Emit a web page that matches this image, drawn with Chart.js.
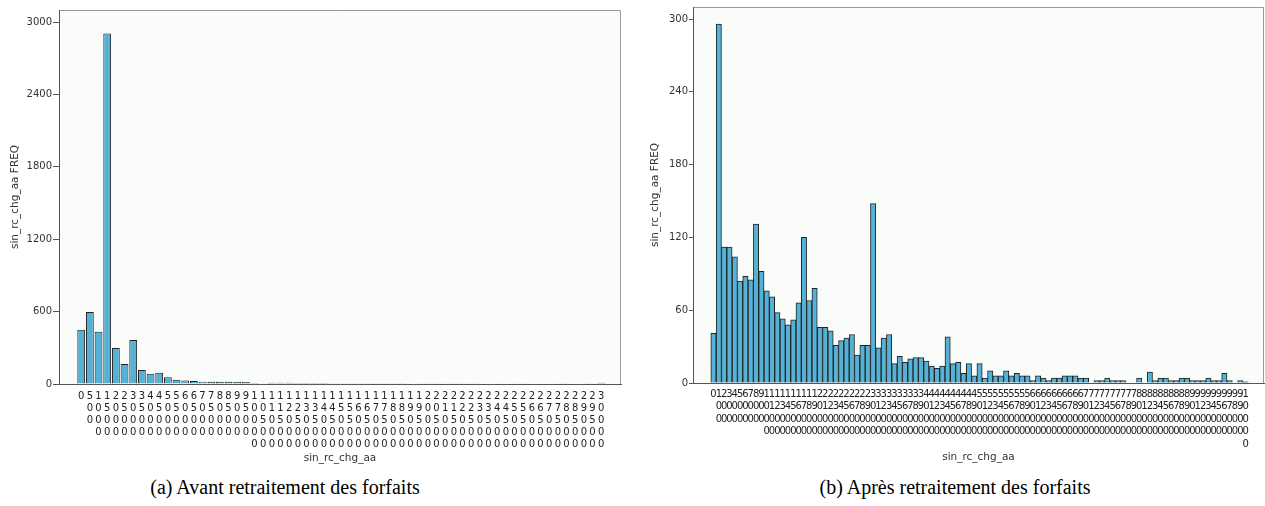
<!DOCTYPE html>
<html>
<head>
<meta charset="utf-8">
<script src="https://cdn.jsdelivr.net/npm/chart.js@4.4.1/dist/chart.umd.min.js"></script>
<style>
    body { margin: 0; background: #fff; width: 1265px; height: 506px; position: relative; overflow: hidden; }
    .panel { position: absolute; top: 0; height: 470px; }
    #leftPanel { left: 0; width: 632px; }
    #rightPanel { left: 640px; width: 625px; }
    .caption {
        position: absolute; top: 477px; line-height: 20px;
        font-family: "Liberation Serif", serif; font-size: 20px; color: #000;
        white-space: nowrap; transform: translateX(-50%);
    }
</style>
</head>
<body>
<div class="panel" id="leftPanel"><canvas id="leftChart" width="632" height="470"></canvas></div>
<div class="panel" id="rightPanel"><canvas id="rightChart" width="625" height="470"></canvas></div>
<div class="caption" style="left:285px">(a) Avant retraitement des forfaits</div>
<div class="caption" style="left:955px">(b) Après retraitement des forfaits</div>

<script>
// (a) before: classes of 500
const leftCategories = [
    0, 500, 1000, 1500, 2000, 2500, 3000, 3500, 4000, 4500,
    5000, 5500, 6000, 6500, 7000, 7500, 8000, 8500, 9000, 9500,
    10000, 10500, 11000, 11500, 12000, 12500, 13000, 13500, 14000, 14500,
    15000, 15500, 16000, 16500, 17000, 17500, 18000, 18500, 19000, 19500,
    20000, 20500, 21000, 21500, 22000, 22500, 23000, 23500, 24000, 24500,
    25000, 25500, 26000, 26500, 27000, 27500, 28000, 28500, 29000, 29500,
    30000
];
const leftFreq = [
    450, 596, 433, 2906, 298, 166, 364, 116, 85, 94,
    55, 36, 30, 25, 19, 18, 18, 18, 17, 16,
    8, 2, 10, 10, 10, 9, 9, 9, 8, 3,
    3, 3, 3, 3, 3, 3, 3, 3, 0, 2,
    2, 2, 2, 2, 2, 2, 2, 0, 2, 0,
    2, 2, 0, 0, 0, 2, 2, 0, 2, 2,
    10
];
const leftYTicks = [0, 600, 1200, 1800, 2400, 3000];

// (b) after: classes of 100
const rightCategories = [
    0, 100, 200, 300, 400, 500, 600, 700, 800, 900,
    1000, 1100, 1200, 1300, 1400, 1500, 1600, 1700, 1800, 1900,
    2000, 2100, 2200, 2300, 2400, 2500, 2600, 2700, 2800, 2900,
    3000, 3100, 3200, 3300, 3400, 3500, 3600, 3700, 3800, 3900,
    4000, 4100, 4200, 4300, 4400, 4500, 4600, 4700, 4800, 4900,
    5000, 5100, 5200, 5300, 5400, 5500, 5600, 5700, 5800, 5900,
    6000, 6100, 6200, 6300, 6400, 6500, 6600, 6700, 6800, 6900,
    7000, 7100, 7200, 7300, 7400, 7500, 7600, 7700, 7800, 7900,
    8000, 8100, 8200, 8300, 8400, 8500, 8600, 8700, 8800, 8900,
    9000, 9100, 9200, 9300, 9400, 9500, 9600, 9700, 9800, 9900,
    10000
];
const rightFreq = [
    41, 296, 112, 112, 104, 84, 88, 85, 131, 92,
    76, 71, 58, 53, 48, 52, 66, 120, 68, 78,
    46, 46, 43, 31, 35, 37, 40, 23, 31, 31,
    148, 29, 37, 40, 16, 22, 17, 20, 21, 21,
    18, 14, 12, 14, 38, 16, 17, 8, 16, 6,
    16, 4, 10, 6, 6, 10, 6, 8, 6, 6,
    2, 6, 4, 2, 4, 4, 6, 6, 6, 4,
    4, 0, 2, 2, 4, 2, 2, 2, 0, 0,
    4, 0, 9, 2, 4, 4, 2, 2, 4, 4,
    2, 2, 2, 4, 2, 2, 8, 2, 0, 2,
    1
];
const rightYTicks = [0, 60, 120, 180, 240, 300];

const BAR_FILL = "#55b2d6";
const BAR_EDGE = "#222";
const AXIS_COLOR = "#555";
const TEXT_COLOR = "#333";

// light plot background + grey frame around the plot area
const frame = {
    id: "frame",
    beforeDraw(chart) {
        const { ctx, chartArea: a } = chart;
        ctx.save();
        ctx.fillStyle = "#fafcfa";
        ctx.fillRect(a.left, a.top, a.right - a.left, a.bottom - a.top);
        ctx.strokeStyle = "#999";
        ctx.lineWidth = 1;
        ctx.beginPath();
        ctx.moveTo(a.left, a.top + 0.5);
        ctx.lineTo(a.right - 0.5, a.top + 0.5);
        ctx.lineTo(a.right - 0.5, a.bottom);
        ctx.stroke();
        ctx.restore();
    }
};

function renderHistogram(id, categories, freq, yTicks, o) {
    const ctx = document.getElementById(id).getContext("2d");

    return new Chart(ctx, {
        type: "bar",
        data: {
            datasets: [{
                data: categories.map((c, i) => ({ x: c, y: freq[i] })),
                backgroundColor: BAR_FILL,
                borderColor: BAR_EDGE,
                borderWidth: 1,
                barPercentage: o.barPct,
                categoryPercentage: 1
            }]
        },
        options: {
            responsive: false,
            animation: false,
            layout: { padding: { top: o.top, right: o.right, left: 0, bottom: 0 } },
            plugins: {
                legend: { display: false },
                tooltip: { enabled: false }
            },
            scales: {
                x: {
                    type: "linear",
                    min: o.xMin,
                    max: o.xMax,
                    offset: false,
                    grid: { display: false, drawTicks: false },
                    border: { display: true, color: AXIS_COLOR, width: 1 },
                    afterBuildTicks: axis => { axis.ticks = categories.map(v => ({ value: v })); },
                    afterFit: axis => { axis.height = o.xHeight; },
                    ticks: {
                        autoSkip: false,
                        maxRotation: 0,
                        minRotation: 0,
                        padding: o.xPad,
                        color: "#222",
                        font: { family: "DejaVu Sans", size: 10, lineHeight: o.lineH },
                        callback: v => String(v).split("")
                    },
                    title: {
                        display: true,
                        text: "sin_rc_chg_aa",
                        color: TEXT_COLOR,
                        font: { family: "DejaVu Sans", size: 10.5 },
                        padding: { top: 0, bottom: o.titlePad }
                    }
                },
                y: {
                    min: 0,
                    max: o.yMax,
                    afterBuildTicks: axis => { axis.ticks = yTicks.map(v => ({ value: v })); },
                    afterFit: axis => { axis.width = o.yWidth; },
                    grid: { display: true, drawOnChartArea: false, drawTicks: true, tickLength: o.tick, color: AXIS_COLOR },
                    border: { display: true, color: AXIS_COLOR, width: 1 },
                    ticks: {
                        padding: 1,
                        color: TEXT_COLOR,
                        font: { family: "DejaVu Sans", size: 10 },
                        callback: v => String(v)
                    },
                    title: {
                        display: true,
                        text: "sin_rc_chg_aa FREQ",
                        color: TEXT_COLOR,
                        font: { family: "DejaVu Sans", size: 10.5 },
                        padding: { top: 9, bottom: 0 }
                    }
                }
            }
        },
        plugins: [frame]
    });
}

renderHistogram("leftChart", leftCategories, leftFreq, leftYTicks, {
    xMin: -1281, xMax: 31141, yMax: 3100,
    top: 10, right: 11, yWidth: 59, xHeight: 86,
    xPad: 6, lineH: 1.22, titlePad: 5, tick: 6, barPct: 0.9
});

renderHistogram("rightChart", rightCategories, rightFreq, rightYTicks, {
    xMin: -385, xMax: 10345, yMax: 310,
    top: 7, right: 1, yWidth: 53, xHeight: 87,
    xPad: 5, lineH: 1.25, titlePad: 6, tick: 4, barPct: 1
});
</script>
</body>
</html>
